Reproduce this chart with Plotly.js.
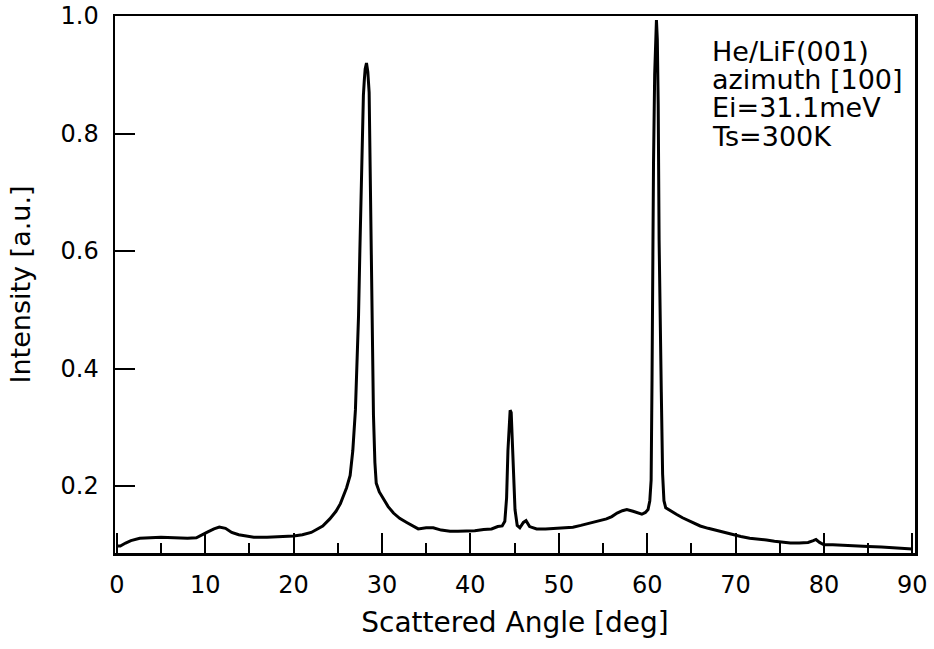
<!DOCTYPE html>
<html>
<head>
<meta charset="utf-8">
<script src="https://cdn.plot.ly/plotly-3.0.1.min.js"></script>
<style>html,body{margin:0;padding:0;background:#fff;}#chart{width:934px;height:649px;}</style>
</head>
<body>
<div id="chart"></div>
<script>
// Scattered angle [deg]
const angle = [
  0, 0.4, 1.0, 1.6, 2.6, 3.5, 5.0, 6.5, 8.0, 9.0,
  9.6, 10.3, 11.0, 11.6, 12.3, 13.0, 13.8, 14.5, 15.5, 17.0,
  18.5, 20.0, 21.0, 22.0, 22.6, 23.3, 24.1, 24.8, 25.3, 25.7,
  26.0, 26.4, 26.7, 27.0, 27.2, 27.35, 27.5, 27.6, 27.7, 27.8,
  27.9, 28.0, 28.1, 28.25, 28.4, 28.55, 28.65, 28.75, 28.9, 29.04,
  29.2, 29.35, 29.7, 30.2, 30.7, 31.3, 32.0, 32.8, 33.5, 34.1,
  35.0, 35.8, 36.7, 37.7, 38.6, 39.6, 40.5, 41.5, 42.4, 43.1,
  43.6, 43.9, 44.1, 44.25, 44.4, 44.5, 44.62, 44.75, 44.9, 45.05,
  45.3, 45.6, 46.0, 46.3, 46.7, 47.5, 48.5, 49.5, 50.5, 51.6,
  52.5, 53.5, 54.5, 55.4, 56.0, 56.6, 57.2, 57.7, 58.4, 58.9,
  59.4, 59.8, 60.1, 60.3, 60.45, 60.55, 60.62, 60.72, 60.85, 60.95,
  61.05, 61.15, 61.25, 61.35, 61.45, 61.6, 61.75, 61.9, 62.1, 62.4,
  62.8, 63.3, 64.0, 65.0, 66.0, 66.9, 67.9, 68.8, 69.7, 70.6,
  71.6, 72.5, 73.5, 74.4, 75.3, 76.2, 77.2, 78.2, 78.8, 79.1,
  79.5, 80.0, 81.0, 82.0, 83.0, 84.0, 85.0, 86.5, 88.0, 90.0
];
// Intensity [a.u.]
const intensity = [
  0.098, 0.098, 0.103, 0.107, 0.111, 0.112, 0.113, 0.112, 0.111, 0.112,
  0.116, 0.122, 0.127, 0.130, 0.128, 0.121, 0.117, 0.115, 0.113, 0.113,
  0.114, 0.115, 0.117, 0.121, 0.126, 0.132, 0.144, 0.157, 0.170, 0.184,
  0.197, 0.218, 0.26, 0.33, 0.41, 0.49, 0.60, 0.68, 0.76, 0.82,
  0.865, 0.89, 0.91, 0.92, 0.905, 0.87, 0.76, 0.62, 0.45, 0.32,
  0.24, 0.205, 0.19, 0.178, 0.165, 0.154, 0.145, 0.138, 0.132, 0.127,
  0.129, 0.129, 0.125, 0.123, 0.123, 0.123, 0.124, 0.126, 0.127, 0.131,
  0.132, 0.14, 0.18, 0.26, 0.31, 0.329, 0.325, 0.28, 0.22, 0.16,
  0.133, 0.129, 0.138, 0.141, 0.131, 0.127, 0.127, 0.128, 0.128, 0.130,
  0.133, 0.137, 0.140, 0.144, 0.148, 0.154, 0.158, 0.160, 0.157, 0.154,
  0.152, 0.155, 0.160, 0.175, 0.21, 0.38, 0.55, 0.75, 0.90, 0.97,
  0.993, 0.96, 0.85, 0.62, 0.48, 0.36, 0.22, 0.175, 0.163, 0.160,
  0.156, 0.152, 0.146, 0.139, 0.132, 0.128, 0.124, 0.121, 0.117, 0.114,
  0.111, 0.110, 0.108, 0.106, 0.104, 0.103, 0.103, 0.104, 0.107, 0.109,
  0.104, 0.100, 0.100, 0.099, 0.098, 0.097, 0.097, 0.096, 0.095, 0.093
];
const infoLines = ["He/LiF(001)", "azimuth [100]", "Ei=31.1meV", "Ts=300K"];
const xTitle = "Scattered Angle [deg]";
const yTitle = "Intensity [a.u.]";

const FONT = "DejaVu Sans, Arial, sans-serif";
const infoY = [0.933, 0.882, 0.829, 0.776];

const trace = {
  x: angle, y: intensity, type: "scatter", mode: "lines",
  line: {color: "#000", width: 3}, hoverinfo: "skip"
};

const layout = {
  width: 934, height: 649,
  margin: {l: 115, r: 19, t: 16, b: 96},
  paper_bgcolor: "#fff", plot_bgcolor: "#fff",
  showlegend: false,
  font: {family: FONT, color: "#000", size: 24},
  xaxis: {
    range: [-0.2, 90.3], tick0: 0, dtick: 10,
    ticks: "inside", ticklen: 20, tickwidth: 2, tickcolor: "#000",
    minor: {dtick: 5, tick0: 0, ticks: "inside", ticklen: 10, tickwidth: 2, tickcolor: "#000"},
    showline: true, linecolor: "#000", linewidth: 2.5, mirror: true,
    showgrid: false, zeroline: false,
    tickfont: {family: FONT, size: 24, color: "#000"},
    ticklabelstandoff: 9,
    title: {text: xTitle, font: {family: FONT, size: 28, color: "#000"}, standoff: 14}
  },
  yaxis: {
    range: [0.086, 1.0], tick0: 0, dtick: 0.2, tickformat: ".1f",
    ticks: "inside", ticklen: 20, tickwidth: 2, tickcolor: "#000",
    showline: true, linecolor: "#000", linewidth: 2.5, mirror: true,
    showgrid: false, zeroline: false,
    tickfont: {family: FONT, size: 24, color: "#000"},
    ticklabelstandoff: 9,
    title: {text: yTitle, font: {family: FONT, size: 27, color: "#000"}, standoff: 22}
  },
  annotations: infoLines.map((t, i) => ({
    text: t, xref: "paper", yref: "paper", x: 0.744, y: infoY[i],
    xanchor: "left", yanchor: "middle", showarrow: false,
    font: {family: FONT, size: 27, color: "#000"}
  }))
};

Plotly.newPlot("chart", [trace], layout, {staticPlot: true, displayModeBar: false});
</script>
</body>
</html>
